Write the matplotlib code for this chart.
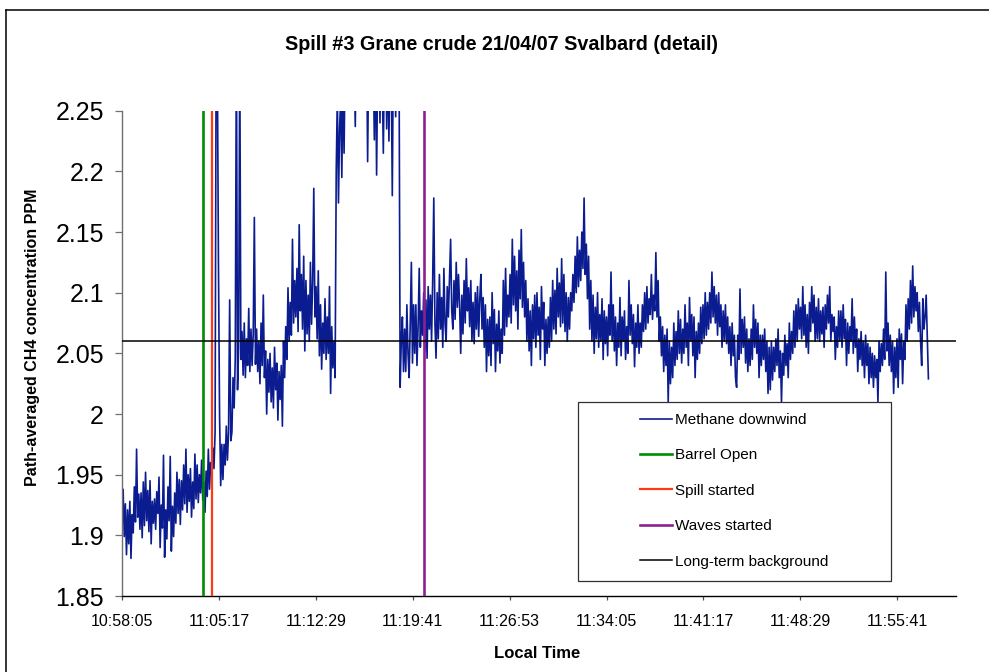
import matplotlib
matplotlib.use("Agg")
import matplotlib.pyplot as plt
from matplotlib.lines import Line2D
from matplotlib.patches import Rectangle

plt.rcParams['font.family'] = ['Liberation Sans', 'DejaVu Sans']

# ---------------- data ----------------
title = "Spill #3 Grane crude 21/04/07 Svalbard (detail)"
x_label = "Local Time"
y_label = "Path-averaged CH4 concentration PPM"

start_time = "10:58:05"
sample_step_s = 5
methane_ppm = [
    1.905, 1.938, 1.899, 1.926, 1.884, 1.921, 1.893, 1.928, 1.881, 1.917, 1.902, 1.940, 1.911, 1.971, 1.915, 1.934, 1.905, 1.935, 1.898, 1.944,
    1.908, 1.952, 1.912, 1.937, 1.903, 1.945, 1.893, 1.928, 1.910, 1.930, 1.905, 1.936, 1.918, 1.948, 1.890, 1.925, 1.906, 1.966, 1.882, 1.921,
    1.897, 1.940, 1.912, 1.965, 1.887, 1.924, 1.899, 1.935, 1.910, 1.952, 1.918, 1.946, 1.909, 1.945, 1.921, 1.958, 1.926, 1.971, 1.919, 1.950,
    1.928, 1.955, 1.915, 1.944, 1.922, 1.967, 1.930, 1.958, 1.927, 1.950, 1.935, 1.962, 1.929, 1.944, 1.919, 1.953, 1.932, 1.971, 1.938, 1.960,
    1.950, 1.972, 1.955, 1.985, 2.320, 2.290, 2.124, 1.998, 1.941, 1.975, 1.946, 1.975, 1.958, 1.990, 1.962, 1.985, 2.094, 1.978, 1.985, 2.030,
    2.005, 2.047, 2.310, 2.020, 2.055, 2.300, 2.045, 2.068, 2.032, 2.075, 2.030, 2.062, 2.040, 2.087, 2.035, 2.070, 2.040, 2.066, 2.162, 2.041,
    2.070, 2.035, 2.060, 2.025, 2.075, 2.040, 2.098, 2.030, 2.052, 2.000, 2.045, 2.018, 2.050, 2.010, 2.038, 2.005, 2.055, 2.020, 2.042, 1.995,
    2.035, 2.012, 2.040, 1.990, 2.060, 2.030, 2.072, 2.045, 2.104, 2.060, 2.092, 2.065, 2.144, 2.075, 2.110, 2.080, 2.120, 2.068, 2.156, 2.085,
    2.115, 2.070, 2.130, 2.052, 2.110, 2.066, 2.098, 2.060, 2.125, 2.074, 2.108, 2.186, 2.080, 2.105, 2.062, 2.118, 2.048, 2.090, 2.037, 2.075,
    2.050, 2.095, 2.045, 2.080, 2.050, 2.105, 2.017, 2.072, 2.038, 2.060, 2.030, 2.200, 2.262, 2.174, 2.235, 2.260, 2.195, 2.282, 2.215, 2.300,
    2.330, 2.290, 2.340, 2.300, 2.330, 2.280, 2.310, 2.290, 2.237, 2.320, 2.300, 2.350, 2.310, 2.340, 2.300, 2.330, 2.310, 2.290, 2.320, 2.208,
    2.300, 2.320, 2.280, 2.310, 2.290, 2.226, 2.310, 2.197, 2.290, 2.330, 2.240, 2.310, 2.280, 2.215, 2.300, 2.320, 2.235, 2.300, 2.225, 2.310,
    2.290, 2.180, 2.310, 2.330, 2.245, 2.300, 2.320, 2.300, 2.022, 2.060, 2.080, 2.035, 2.070, 2.035, 2.090, 2.050, 2.030, 2.075, 2.125, 2.042,
    2.090, 2.050, 2.090, 2.040, 2.072, 2.120, 2.055, 2.085, 2.065, 2.100, 2.052, 2.094, 2.046, 2.105, 2.070, 2.098, 2.060, 2.110, 2.178, 2.075,
    2.046, 2.100, 2.062, 2.115, 2.070, 2.096, 2.055, 2.120, 2.075, 2.060, 2.105, 2.080, 2.112, 2.144, 2.085, 2.070, 2.110, 2.078, 2.125, 2.088,
    2.115, 2.090, 2.050, 2.098, 2.066, 2.110, 2.075, 2.128, 2.085, 2.104, 2.072, 2.110, 2.060, 2.092, 2.058, 2.100, 2.070, 2.105, 2.064, 2.095,
    2.115, 2.070, 2.096, 2.055, 2.090, 2.035, 2.078, 2.048, 2.080, 2.040, 2.100, 2.058, 2.086, 2.035, 2.074, 2.052, 2.085, 2.042, 2.070, 2.050,
    2.110, 2.065, 2.120, 2.072, 2.098, 2.080, 2.115, 2.075, 2.144, 2.090, 2.130, 2.085, 2.118, 2.070, 2.135, 2.095, 2.152, 2.088, 2.125, 2.080,
    2.110, 2.060, 2.095, 2.052, 2.085, 2.040, 2.090, 2.062, 2.098, 2.055, 2.100, 2.065, 2.088, 2.045, 2.105, 2.070, 2.092, 2.040, 2.078, 2.050,
    2.080, 2.055, 2.096, 2.060, 2.110, 2.070, 2.102, 2.066, 2.120, 2.080, 2.108, 2.072, 2.128, 2.075, 2.115, 2.068, 2.100, 2.060, 2.096, 2.070,
    2.100, 2.085, 2.115, 2.092, 2.130, 2.100, 2.146, 2.105, 2.135, 2.110, 2.150, 2.120, 2.178, 2.115, 2.140, 2.095, 2.130, 2.070, 2.110, 2.060,
    2.098, 2.050, 2.088, 2.062, 2.100, 2.055, 2.082, 2.060, 2.095, 2.045, 2.085, 2.058, 2.080, 2.048, 2.090, 2.065, 2.117, 2.060, 2.090, 2.052,
    2.080, 2.040, 2.075, 2.055, 2.096, 2.048, 2.080, 2.060, 2.085, 2.045, 2.072, 2.050, 2.110, 2.065, 2.090, 2.058, 2.082, 2.039, 2.075, 2.055,
    2.090, 2.050, 2.075, 2.055, 2.090, 2.068, 2.100, 2.070, 2.105, 2.075, 2.095, 2.082, 2.115, 2.078, 2.098, 2.085, 2.133, 2.080, 2.110, 2.060,
    2.080, 2.048, 2.072, 2.035, 2.065, 2.040, 2.070, 2.010, 2.060, 2.025, 2.055, 2.030, 2.075, 2.040, 2.068, 2.045, 2.085, 2.050, 2.078, 2.042,
    2.070, 2.050, 2.090, 2.055, 2.075, 2.040, 2.096, 2.060, 2.082, 2.048, 2.080, 2.030, 2.068, 2.045, 2.075, 2.050, 2.088, 2.058, 2.090, 2.062,
    2.100, 2.065, 2.092, 2.070, 2.100, 2.075, 2.117, 2.080, 2.105, 2.075, 2.098, 2.065, 2.100, 2.072, 2.090, 2.055, 2.085, 2.060, 2.090, 2.058,
    2.080, 2.050, 2.072, 2.040, 2.075, 2.048, 2.065, 2.030, 2.022, 2.065, 2.045, 2.103, 2.050, 2.078, 2.055, 2.080, 2.042, 2.070, 2.035, 2.062,
    2.040, 2.070, 2.045, 2.090, 2.055, 2.078, 2.050, 2.075, 2.030, 2.065, 2.040, 2.065, 2.045, 2.070, 2.035, 2.060, 2.017, 2.055, 2.020, 2.060,
    2.028, 2.055, 2.035, 2.062, 2.040, 2.070, 2.030, 2.052, 2.010, 2.050, 2.032, 2.065, 2.040, 2.058, 2.030, 2.075, 2.045, 2.068, 2.050, 2.085,
    2.055, 2.090, 2.060, 2.095, 2.070, 2.088, 2.062, 2.105, 2.065, 2.090, 2.055, 2.082, 2.050, 2.092, 2.068, 2.105, 2.075, 2.098, 2.060, 2.088,
    2.062, 2.095, 2.060, 2.085, 2.066, 2.088, 2.055, 2.090, 2.070, 2.098, 2.075, 2.105, 2.060, 2.082, 2.068, 2.080, 2.045, 2.072, 2.055, 2.085,
    2.060, 2.085, 2.055, 2.090, 2.062, 2.078, 2.040, 2.075, 2.050, 2.072, 2.060, 2.095, 2.050, 2.080, 2.055, 2.070, 2.035, 2.062, 2.045, 2.068,
    2.040, 2.060, 2.030, 2.065, 2.040, 2.058, 2.025, 2.055, 2.030, 2.050, 2.022, 2.048, 2.030, 2.045, 2.010, 2.060, 2.035, 2.058, 2.040, 2.070,
    2.045, 2.117, 2.052, 2.075, 2.040, 2.065, 2.035, 2.060, 2.017, 2.055, 2.030, 2.062, 2.022, 2.070, 2.045, 2.066, 2.025, 2.060, 2.045, 2.090,
    2.060, 2.095, 2.070, 2.110, 2.075, 2.122, 2.080, 2.105, 2.085, 2.100, 2.068, 2.092, 2.060, 2.040, 2.095, 2.070, 2.080, 2.098, 2.062, 2.029,
]
background_ppm = 2.06

event_names = ["Barrel Open", "Spill started", "Waves started"]
event_times = ["11:04:06", "11:04:46", "11:20:33"]

x_tick_labels = ["10:58:05", "11:05:17", "11:12:29", "11:19:41", "11:26:53",
                 "11:34:05", "11:41:17", "11:48:29", "11:55:41"]
x_axis_end = "12:00:03"
y_ticks = [1.85, 1.9, 1.95, 2.0, 2.05, 2.1, 2.15, 2.2, 2.25]
y_tick_labels = ["1.85", "1.9", "1.95", "2", "2.05", "2.1", "2.15", "2.2", "2.25"]

# ---------------- styles ----------------
series_color = "#0a1c8f"
event_colors = ["#008c00", "#ff3a12", "#8e1f8e"]
event_widths = [1.9, 1.6, 1.9]


def to_sec(s):
    h, m, sec = map(int, s.split(":"))
    return h * 3600 + m * 60 + sec


t0 = to_sec(start_time)
times = [t0 + i * sample_step_s for i in range(len(methane_ppm))]

W, H = 989, 672
fig = plt.figure(figsize=(W / 100, H / 100), dpi=100)
fig.patch.set_facecolor("white")

ax = fig.add_axes([122 / W, (H - 596) / H, (956 - 122) / W, (596 - 110.7) / H])

ax.plot(times, methane_ppm, color=series_color, lw=1.2, zorder=2,
        label="Methane downwind")
for name, t, c, w in zip(event_names, event_times, event_colors, event_widths):
    ax.axvline(to_sec(t), color=c, lw=w, zorder=3, label=name)
ax.axhline(background_ppm, color="black", lw=1.1, zorder=4,
           label="Long-term background")

ax.set_xlim(t0, to_sec(x_axis_end))
ax.set_ylim(y_ticks[0], y_ticks[-1])

ax.set_xticks([to_sec(s) for s in x_tick_labels])
ax.set_xticklabels(x_tick_labels, fontsize=11.5)
ax.set_yticks(y_ticks)
ax.set_yticklabels(y_tick_labels, fontsize=18)

for side in ("top", "right"):
    ax.spines[side].set_visible(False)
ax.spines["left"].set_color("#707070")
ax.spines["left"].set_linewidth(1.0)
ax.spines["bottom"].set_color("black")
ax.spines["bottom"].set_linewidth(1.0)
ax.tick_params(axis="y", length=5, width=0.9, color="#707070", pad=8)
ax.tick_params(axis="x", length=3, width=0.9, color="#505050", pad=10)

# titles / labels
fig.text(501.5 / W, (H - 44) / H, title, ha="center", va="center",
         fontsize=14.2, fontweight="bold")
fig.text(537.5 / W, (H - 653) / H, x_label, ha="center", va="center",
         fontsize=12, fontweight="bold")
fig.text(33 / W, (H - 337) / H, y_label, ha="center", va="center",
         rotation=90, fontsize=11.5, fontweight="bold")

# legend box and entries
fig.add_artist(Rectangle((578 / W, (H - 581) / H), 313 / W, 179 / H,
                         transform=fig.transFigure, fill=True,
                         facecolor="white", edgecolor="#303030", lw=0.9,
                         zorder=5))
handles, labels = ax.get_legend_handles_labels()
leg = fig.legend(handles, labels, loc="upper left",
                 bbox_to_anchor=(640 / W, (H - 413) / H), frameon=False,
                 fontsize=11, borderpad=0, borderaxespad=0,
                 handlelength=2.1, handletextpad=0.2, labelspacing=1.4)
leg.set_zorder(6)

# outer chart border (cropped at right and bottom)
fig.add_artist(Line2D([6 / W, 1.0], [(H - 10) / H, (H - 10) / H],
                      transform=fig.transFigure, color="black", lw=1.1))
fig.add_artist(Line2D([6 / W, 6 / W], [0, (H - 10) / H],
                      transform=fig.transFigure, color="black", lw=1.1))

fig.savefig("out.png", dpi=100)
